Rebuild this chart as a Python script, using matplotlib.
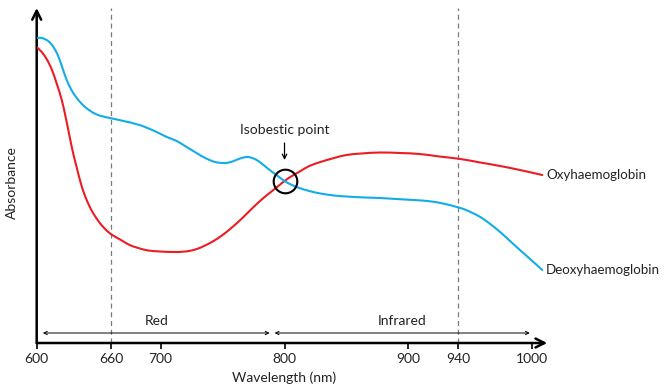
import matplotlib
matplotlib.use("Agg")
import matplotlib.pyplot as plt
from matplotlib.path import Path
from matplotlib.patches import PathPatch
import numpy as np

plt.rcParams['font.family'] = ['Lato', 'DejaVu Sans']

# Absorption spectra (relative absorbance, arbitrary units)
oxy_nm = [600, 604, 608, 612, 616, 620, 623, 626, 629, 632, 636, 640, 645, 651,
          656, 661, 668, 675, 682, 690, 700, 710, 720, 728, 735, 742, 750, 758,
          766, 775, 783, 790, 796, 800, 806, 813, 820, 829, 840, 850, 862, 877,
          893, 909, 925, 942, 958, 974, 990, 1008]
oxy_abs = [296, 291, 284, 274, 260, 244, 228, 210, 192, 177, 158, 144, 131, 120,
           113, 108, 103, 98, 95, 92.5, 91.5, 91, 91.5, 93.5, 97, 101.5, 108, 116,
           125, 136, 145, 152, 158, 162, 167, 172, 177, 181, 185, 188, 189.5, 190.5,
           190, 189, 186.5, 184, 180.5, 177, 173, 168]

deoxy_nm = [600, 604, 608, 611, 614, 617, 620, 623, 626, 630, 635, 640, 646, 652,
            661, 670, 683, 695, 705, 713, 721, 729, 736, 744, 752, 758, 764, 770,
            775, 780, 787, 794, 800, 806, 812, 820, 829, 840, 850, 865, 877, 890,
            904, 915, 926, 942, 950, 958, 966, 974, 982, 990, 1000, 1008]
deoxy_abs = [305, 305, 303, 300, 295, 288, 278, 267, 258, 249, 241, 235, 230, 227,
             224.5, 222, 218, 212, 206, 202, 196, 190, 185, 181, 180, 181.5, 184.5, 186,
             184.5, 181, 174, 167.5, 162, 158, 155, 152, 149.5, 147.5, 146.5, 145.5, 145, 144,
             143, 142, 140, 135, 131, 126, 119, 111, 102, 93, 82, 73]

tick_values = [600, 660, 700, 800, 900, 940, 1000]
marker_lines = [660, 940]
isobestic = (800, 162)
bands = [("Red", 605, 788), ("Infrared", 792, 998)]

RED = '#ec1c24'
BLUE = '#12ade8'
TEXT = '#222222'


def smooth_path(xs, ys):
    """Bezier path passing through every point (Catmull-Rom tangents)."""
    p = np.column_stack([xs, ys]).astype(float)
    ext = np.vstack([p[0], p, p[-1]])
    verts = [p[0]]
    codes = [Path.MOVETO]
    for i in range(len(p) - 1):
        p0, p1, p2, p3 = ext[i], ext[i + 1], ext[i + 2], ext[i + 3]
        verts += [p1 + (p2 - p0) / 6, p2 - (p3 - p1) / 6, p2]
        codes += [Path.CURVE4] * 3
    return Path(verts, codes)


fig = plt.figure(figsize=(6.66, 3.88), dpi=100)
ax = fig.add_axes([36.7 / 666, 45 / 388, 510.5 / 666, 335 / 388])
ax.set_xlim(600, 1012)
ax.set_ylim(0, 335)

for s in ax.spines.values():
    s.set_visible(False)

# Axes drawn as arrows
ax.annotate('', xy=(1, 0), xytext=(0, 0), xycoords='axes fraction',
            arrowprops=dict(arrowstyle='->', lw=1.8, color='black',
                            mutation_scale=16, shrinkA=0, shrinkB=0))
ax.annotate('', xy=(0, 1), xytext=(0, 0), xycoords='axes fraction',
            arrowprops=dict(arrowstyle='->', lw=1.8, color='black',
                            mutation_scale=16, shrinkA=0, shrinkB=0))

for x in marker_lines:
    ax.plot([x, x], [0, 335], color='#7a7a7a', lw=0.9, ls=(0, (4, 3)), zorder=1)

for xs, ys, col in [(oxy_nm, oxy_abs, RED), (deoxy_nm, deoxy_abs, BLUE)]:
    ax.add_patch(PathPatch(smooth_path(xs, ys), fc='none', ec=col, lw=1.5,
                           capstyle='round', zorder=3))

# Isobestic point marker and annotation
ax.plot([isobestic[0]], [isobestic[1]], marker='o', ms=17, mfc='none',
        mec='black', mew=1.5, zorder=4)
ax.annotate('', xy=(isobestic[0], 183), xytext=(isobestic[0], 200),
            arrowprops=dict(arrowstyle='->', lw=0.9, color='black',
                            mutation_scale=8, shrinkA=0, shrinkB=0))
ax.text(isobestic[0], 213, 'Isobestic point', ha='center', va='center',
        fontsize=10, color=TEXT)

# Series labels
ax.text(1011, oxy_abs[-1], 'Oxyhaemoglobin', ha='left', va='center',
        fontsize=9.6, color=TEXT, clip_on=False)
ax.text(1011, deoxy_abs[-1], 'Deoxyhaemoglobin', ha='left', va='center',
        fontsize=9.6, color=TEXT, clip_on=False)

# Wavelength bands
for name, lo, hi in bands:
    ax.annotate('', xy=(hi, 10), xytext=(lo, 10),
                arrowprops=dict(arrowstyle='<->', lw=0.7, color='black',
                                mutation_scale=6, shrinkA=0, shrinkB=0))
    ax.text((lo + hi) / 2, 22, name, ha='center', va='center',
            fontsize=10, color=TEXT)

ax.set_xticks(tick_values)
ax.set_xticklabels([str(v) for v in tick_values], fontsize=10, color=TEXT)
ax.tick_params(axis='x', direction='out', length=4, width=1.2, pad=3)
ax.set_yticks([])

ax.text(800, -35, 'Wavelength (nm)', ha='center', va='center', fontsize=10,
        color=TEXT, clip_on=False)
fig.text(12 / 666, 1 - 183 / 388, 'Absorbance', rotation=90, ha='center',
         va='center', fontsize=10, color=TEXT)

fig.savefig('out.png', dpi=100)
